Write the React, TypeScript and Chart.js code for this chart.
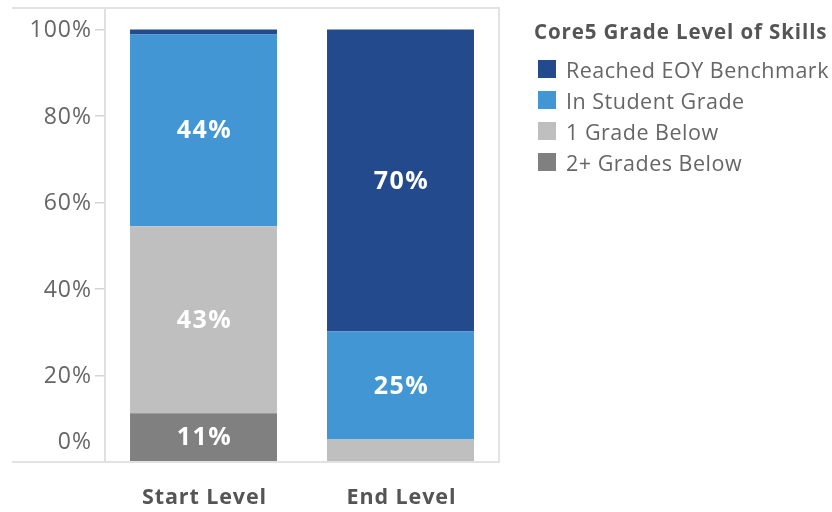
import React, { useEffect, useRef } from "react";
import { Chart, registerables } from "chart.js";

Chart.register(...registerables);

const categories = ["Start Level", "End Level"];
const legendTitle = "Core5 Grade Level of Skills";
const seriesNames = ["Reached EOY Benchmark", "In Student Grade", "1 Grade Below", "2+ Grades Below"];
const seriesColors = ["#234A8C", "#4196D3", "#BFBFBF", "#808080"];
const reachedEOY = [1.1, 69.8];
const inStudentGrade = [44.4, 25.0];
const oneGradeBelow = [43.2, 4.9];
const twoPlusBelow = [11.3, 0.3];
const yTickValues = [0, 20, 40, 60, 80, 100];
const labelThreshold = 10;

const seriesData = [reachedEOY, inStudentGrade, oneGradeBelow, twoPlusBelow];

const FONT = "'Open Sans', 'Noto Sans', sans-serif";

function setSpacing(ctx: any, px: number) {
  if ("letterSpacing" in ctx) ctx.letterSpacing = px + "px";
}

const customDraw = {
  id: "customDraw",
  afterDatasetsDraw(chart: any) {
    const ctx = chart.ctx;
    ctx.save();
    ctx.fillStyle = "#ffffff";
    ctx.font = `bold 25px ${FONT}`;
    setSpacing(ctx, 1.4);
    ctx.textAlign = "center";
    ctx.textBaseline = "middle";
    chart.data.datasets.forEach((ds: any, i: number) => {
      const meta = chart.getDatasetMeta(i);
      meta.data.forEach((bar: any, j: number) => {
        const v = ds.data[j];
        if (v < labelThreshold) return;
        const { x, y, base } = bar.getProps(["x", "y", "base"], true);
        ctx.fillText(Math.round(v) + "%", x + 1, (y + base) / 2 + 1);
      });
    });
    setSpacing(ctx, 0);
    ctx.restore();
  },
  afterDraw(chart: any) {
    const ctx = chart.ctx;
    const area = chart.chartArea;
    ctx.save();
    ctx.strokeStyle = "#e2e2e2";
    ctx.lineWidth = 2;
    ctx.beginPath();
    ctx.moveTo(12, area.top);
    ctx.lineTo(area.right, area.top);
    ctx.lineTo(area.right, area.bottom);
    ctx.lineTo(12, area.bottom);
    ctx.stroke();

    const yScale = chart.scales.y;
    ctx.fillStyle = "#666666";
    ctx.font = `23px ${FONT}`;
    setSpacing(ctx, 1);
    ctx.textAlign = "right";
    ctx.textBaseline = "middle";
    yTickValues.forEach((v) => {
      let py = yScale.getPixelForValue(v);
      if (v === 0) py -= 21;
      ctx.fillText(v + "%", area.left - 13, py + 1);
    });

    const xScale = chart.scales.x;
    ctx.fillStyle = "#555555";
    ctx.font = `bold 21.5px ${FONT}`;
    setSpacing(ctx, 0.9);
    ctx.textAlign = "center";
    categories.forEach((c, i) => {
      ctx.fillText(c, xScale.getPixelForValue(i) + 1, area.bottom + 36);
    });
    setSpacing(ctx, 0);
    ctx.restore();
  },
};

export default function App() {
  const ref = useRef<HTMLCanvasElement | null>(null);
  useEffect(() => {
    if (!ref.current) return;
    const datasets = seriesNames
      .map((name, i) => ({
        label: name,
        data: seriesData[i],
        backgroundColor: seriesColors[i],
        borderWidth: 0,
        categoryPercentage: 1,
        barPercentage: 0.746,
      }))
      .reverse();
    const chart = new Chart(ref.current, {
      type: "bar",
      data: { labels: categories, datasets },
      options: {
        animation: false,
        responsive: true,
        maintainAspectRatio: false,
        layout: { padding: { top: 8, right: 333, left: 0, bottom: 0 } },
        plugins: { legend: { display: false }, tooltip: { enabled: false } },
        scales: {
          x: {
            stacked: true,
            grid: { display: false },
            border: { display: false },
            ticks: { display: false },
            afterFit: (s: any) => {
              s.height = 50;
            },
          },
          y: {
            stacked: true,
            min: 0,
            max: 105,
            afterBuildTicks: (s: any) => {
              s.ticks = yTickValues.map((v) => ({ value: v }));
            },
            grid: {
              display: true,
              drawOnChartArea: false,
              drawTicks: true,
              tickLength: 10,
              color: "#d4d4d4",
              lineWidth: 1.5,
            },
            border: { display: true, color: "#e0e0e0", width: 2 },
            ticks: { display: false },
            afterFit: (s: any) => {
              s.width = 105;
            },
          },
        },
      },
      plugins: [customDraw],
    });
    return () => chart.destroy();
  }, []);

  return (
    <div style={{ position: "fixed", left: 0, top: 0, width: 832, height: 512, background: "#fff" }}>
      <canvas ref={ref} width={832} height={512} />
      <div style={{ position: "absolute", left: 534, top: 18, fontFamily: FONT }}>
        <div
          style={{
            fontSize: "20.5px",
            lineHeight: "26px",
            fontWeight: "bold",
            color: "#555555",
            whiteSpace: "nowrap",
            letterSpacing: "0.9px",
          }}
        >
          {legendTitle}
        </div>
        <div style={{ marginTop: "9.5px" }}>
          {seriesNames.map((name, i) => (
            <div key={name} style={{ display: "flex", alignItems: "center", height: 31 }}>
              <div style={{ width: 18, height: 18, marginLeft: 4, marginRight: 10, background: seriesColors[i] }} />
              <span style={{ fontSize: "21.5px", color: "#666666", whiteSpace: "nowrap", letterSpacing: "0.5px" }}>
                {name}
              </span>
            </div>
          ))}
        </div>
      </div>
    </div>
  );
}
